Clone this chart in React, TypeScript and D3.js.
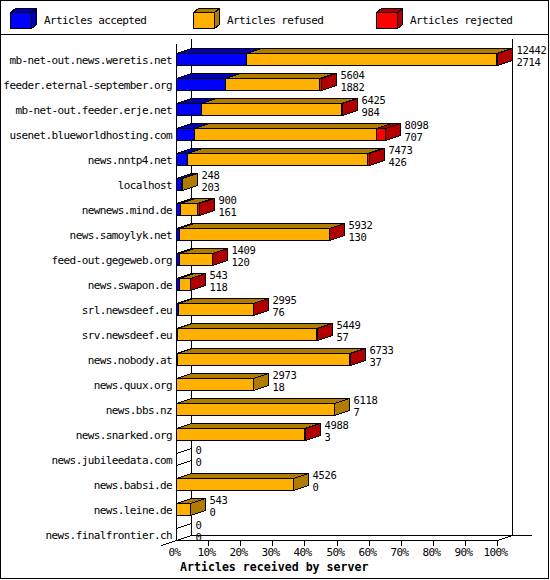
import { useEffect, useRef } from "react";
import * as d3 from "d3";

const hosts = [
  "mb-net-out.news.weretis.net",
  "feeder.eternal-september.org",
  "mb-net-out.feeder.erje.net",
  "usenet.blueworldhosting.com",
  "news.nntp4.net",
  "localhost",
  "newnews.mind.de",
  "news.samoylyk.net",
  "feed-out.gegeweb.org",
  "news.swapon.de",
  "srl.newsdeef.eu",
  "srv.newsdeef.eu",
  "news.nobody.at",
  "news.quux.org",
  "news.bbs.nz",
  "news.snarked.org",
  "news.jubileedata.com",
  "news.babsi.de",
  "news.leine.de",
  "news.finalfrontier.ch",
];
const totals = [12442, 5604, 6425, 8098, 7473, 248, 900, 5932, 1409, 543, 2995, 5449, 6733, 2973, 6118, 4988, 0, 4526, 543, 0];
const accepted = [2714, 1882, 984, 707, 426, 203, 161, 130, 120, 118, 76, 57, 37, 18, 7, 3, 0, 0, 0, 0];
const refused = [9688, 3672, 5421, 7041, 6972, 45, 649, 5787, 1274, 417, 2909, 5382, 6686, 2955, 6111, 4975, 0, 4526, 543, 0];
const rejected = [40, 50, 20, 350, 75, 0, 90, 15, 15, 8, 10, 10, 10, 0, 0, 10, 0, 0, 0, 0];

const legendLabels = ["Articles accepted", "Articles refused", "Articles rejected"];
const tickLabels = ["0%", "10%", "20%", "30%", "40%", "50%", "60%", "70%", "80%", "90%", "100%"];
const axisTitle = "Articles received by server";

const fills = ["#0000ff", "#ffb000", "#ff0000"];
const shades = ["#0000b0", "#b07c00", "#b00000"];

const mono = "'DejaVu Sans Mono', monospace";

type G = d3.Selection<SVGGElement, unknown, null, undefined>;

// one GD-style 3d box: front, top, side
function box(g: G, x0: number, x1: number, t: number, b: number, dx: number, dy: number, fill: string, shade: string) {
  g.append("rect")
    .attr("x", x0)
    .attr("y", t)
    .attr("width", Math.max(0, x1 - x0))
    .attr("height", b - t)
    .attr("fill", fill)
    .attr("stroke", "#000");
  g.append("polygon")
    .attr("points", [[x0, t], [x1, t], [x1 + dx, t - dy], [x0 + dx, t - dy]].join(" "))
    .attr("fill", shade)
    .attr("stroke", "#000");
  g.append("polygon")
    .attr("points", [[x1, t], [x1 + dx, t - dy], [x1 + dx, b - dy], [x1, b]].join(" "))
    .attr("fill", shade)
    .attr("stroke", "#000");
}

export default function App() {
  const width = 550;
  const height = 580;
  const svgRef = useRef<SVGSVGElement>(null);

  useEffect(() => {
    const svg = d3.select(svgRef.current);
    svg.selectAll("*").remove();

    const dx = 15;
    const dy = 5;
    const snap = (v: number) => Math.round(v - 0.5) + 0.5;

    const x = d3
      .scaleLinear()
      .domain([0, d3.max(totals) ?? 0])
      .range([176.5, 497.5]);
    const pct = d3.scaleLinear().domain([0, 100]).range(x.range());
    const y = d3.scaleBand().domain(hosts).range([41, 541]);

    // frame + legend separator
    svg
      .append("rect")
      .attr("x", 0.5)
      .attr("y", 0.5)
      .attr("width", 548)
      .attr("height", 578)
      .attr("fill", "#fff")
      .attr("stroke", "#000");
    svg.append("line").attr("x1", 0).attr("x2", 549).attr("y1", 34.5).attr("y2", 34.5).attr("stroke", "#000");

    // legend
    legendLabels.forEach((label, i) => {
      const g = svg.append("g").attr("transform", `translate(${10 + i * 183},0)`);
      box(g, 0.5, 21.5, 12.5, 28.5, 5, 4, fills[i], shades[i]);
      g.append("text")
        .attr("x", 34)
        .attr("y", 24)
        .attr("font-family", mono)
        .attr("font-size", 11)
        .attr("letter-spacing", -0.6)
        .text(label);
    });

    // walls and floor
    const frame = svg.append("g").attr("stroke", "#000").attr("fill", "none");
    const seg = (x1: number, y1: number, x2: number, y2: number) =>
      frame.append("line").attr("x1", x1).attr("y1", y1).attr("x2", x2).attr("y2", y2);
    seg(176.5, 44, 176.5, 541);
    seg(191.5, 39, 191.5, 535.5);
    seg(512.5, 39, 512.5, 535.5);
    seg(176.5, 540.5, 497.5, 540.5);
    seg(191.5, 535.5, 532, 535.5);
    seg(161.5, 545.5, 191.5, 535.5);
    seg(497.5, 540.5, 512.5, 535.5);

    // x ticks
    tickLabels.forEach((lab, i) => {
      const tx = snap(pct(i * 10));
      if (i > 0) seg(tx, 540.5, tx, 546);
      svg
        .append("text")
        .attr("x", tx - 2)
        .attr("y", 556)
        .attr("text-anchor", "middle")
        .attr("font-family", mono)
        .attr("font-size", 11)
        .attr("letter-spacing", -0.6)
        .text(lab);
    });

    svg
      .append("text")
      .attr("x", 180)
      .attr("y", 571)
      .attr("font-family", mono)
      .attr("font-size", 11.6)
      .attr("font-weight", "bold")
      .text(axisTitle);

    // bars
    const bars = svg.append("g");
    hosts.forEach((host, i) => {
      const t = (y(host) ?? 0) + 12.5;
      const b = t + 12;
      const g = bars.append("g");

      svg
        .append("text")
        .attr("x", 172)
        .attr("y", t + 10)
        .attr("text-anchor", "end")
        .attr("font-family", mono)
        .attr("font-size", 11)
        .attr("letter-spacing", -0.6)
        .text(host);

      if (totals[i] === 0) {
        g.append("line").attr("x1", 176.5).attr("y1", t).attr("x2", 176.5 + dx).attr("y2", t - dy).attr("stroke", "#000");
        g.append("line").attr("x1", 176.5).attr("y1", b).attr("x2", 176.5 + dx).attr("y2", b - dy).attr("stroke", "#000");
      } else {
        const parts = [accepted[i], refused[i], rejected[i]];
        let acc = 0;
        parts.forEach((v, k) => {
          if (v === 0) return;
          const x0 = snap(x(acc));
          acc += v;
          const x1 = snap(x(acc));
          box(g, x0, x1, t, b, dx, dy, fills[k], shades[k]);
        });
      }

      // value labels: total over accepted
      const lx = snap(x(totals[i])) + dx + 4;
      [totals[i], accepted[i]].forEach((v, k) => {
        svg
          .append("text")
          .attr("x", lx)
          .attr("y", k === 0 ? t + 0.5 : t + 12)
          .attr("font-family", mono)
          .attr("font-size", 10.5)
          .attr("letter-spacing", -0.3)
          .text(v);
      });
    });

    svg.selectAll("rect,line,polygon").attr("shape-rendering", "crispEdges");
  }, []);

  return (
    <svg
      ref={svgRef}
      width={width}
      height={height}
      style={{ position: "absolute", left: 0, top: 0 }}
    />
  );
}
